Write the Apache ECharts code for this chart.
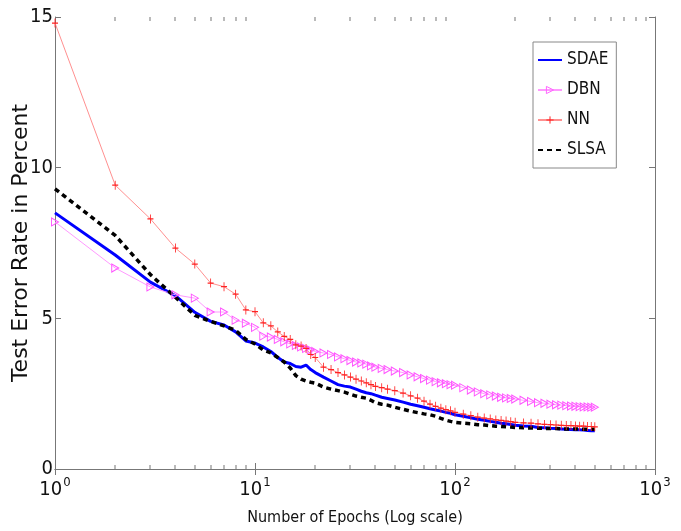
<!DOCTYPE html>
<html>
<head>
<meta charset="utf-8">
<script src="https://cdn.jsdelivr.net/npm/echarts@6/dist/echarts.min.js"></script>
<style>
  html, body { margin: 0; padding: 0; background: #fff; }
  #chart { width: 681px; height: 531px; }
</style>
</head>
<body>
<div id="chart"></div>
<script>
var epochs = [1, 2, 3, 4, 5, 6, 7, 8, 9, 10, 11, 12, 13, 14, 15, 16, 17, 18, 19, 20,
  22, 24, 26, 28, 30, 32, 34, 36, 38, 40,
  43, 46, 50, 55, 60, 65, 70, 75, 80, 85, 90, 95, 100,
  110, 120, 130, 140, 150, 160, 170, 180, 190, 200,
  220, 240, 260, 280, 300, 320, 340, 360, 380, 400, 420, 440, 460, 480, 500]

var sdae = [8.5, 7.1, 6.2, 5.75, 5.2, 4.9, 4.78, 4.55, 4.25, 4.18, 4.05, 3.9, 3.7, 3.55, 3.5, 3.4, 3.38, 3.45, 3.3, 3.2,
  3.05, 2.92, 2.8, 2.75, 2.72, 2.65, 2.58, 2.53, 2.5, 2.45,
  2.38, 2.34, 2.29, 2.22, 2.15, 2.1, 2.05, 2.0, 1.96, 1.92, 1.88, 1.85, 1.8,
  1.75, 1.7, 1.65, 1.62, 1.58, 1.55, 1.52, 1.5, 1.48, 1.45,
  1.43, 1.42, 1.38, 1.37, 1.35, 1.34, 1.33, 1.32, 1.31, 1.3, 1.3, 1.29, 1.28, 1.27, 1.27]

var dbn = [8.2, 6.67, 6.04, 5.78, 5.67, 5.21, 5.21, 4.94, 4.84, 4.7, 4.41, 4.38, 4.3, 4.22, 4.15, 4.1, 4.05, 4.0, 3.95, 3.9,
  3.85, 3.8, 3.72, 3.66, 3.6, 3.55, 3.52, 3.48, 3.42, 3.38,
  3.34, 3.3, 3.25, 3.2, 3.12, 3.06, 3.0, 2.95, 2.9, 2.86, 2.83, 2.8, 2.78,
  2.7, 2.62, 2.56, 2.5, 2.46, 2.42, 2.38, 2.36, 2.34, 2.32,
  2.28, 2.24, 2.2, 2.18, 2.15, 2.13, 2.12, 2.1, 2.09, 2.08, 2.07, 2.06, 2.06, 2.05, 2.05]

var nn = [14.8, 9.42, 8.3, 7.33, 6.8, 6.17, 6.05, 5.8, 5.28, 5.22, 4.85, 4.75, 4.55, 4.4, 4.3, 4.12, 4.08, 4.0, 3.8, 3.7,
  3.38, 3.3, 3.2, 3.12, 3.05, 2.98, 2.92, 2.86, 2.8, 2.74,
  2.7, 2.65, 2.6, 2.52, 2.43, 2.35, 2.25, 2.15, 2.08, 2.02, 1.97, 1.93, 1.88,
  1.82, 1.77, 1.72, 1.69, 1.66, 1.63, 1.61, 1.59, 1.57, 1.55,
  1.53, 1.52, 1.5, 1.48, 1.47, 1.46, 1.45, 1.44, 1.44, 1.43, 1.42, 1.42, 1.41, 1.41, 1.4]

var slsa = [9.3, 7.75, 6.45, 5.7, 5.1, 4.9, 4.75, 4.6, 4.3, 4.15, 3.95, 3.85, 3.7, 3.55, 3.35, 3.1, 2.98, 2.92, 2.88, 2.85,
  2.72, 2.65, 2.6, 2.55, 2.48, 2.42, 2.38, 2.35, 2.28, 2.2,
  2.15, 2.12, 2.05, 1.98, 1.92, 1.87, 1.83, 1.8, 1.75, 1.68, 1.62, 1.58, 1.55,
  1.52, 1.5, 1.47, 1.46, 1.44, 1.42, 1.41, 1.4, 1.39, 1.38,
  1.37, 1.36, 1.35, 1.35, 1.34, 1.34, 1.33, 1.33, 1.33, 1.33, 1.32, 1.32, 1.32, 1.32, 1.32]

// minor ticks of the log axis (matlab style)
var minorTicks = [2, 3, 4, 5, 6, 7, 8, 9, 20, 30, 40, 50, 60, 70, 80, 90, 200, 300, 400, 500, 600, 700, 800, 900]

var narrow = "'Liberation Sans Narrow', 'DejaVu Sans Condensed', 'Liberation Sans', sans-serif"
var axisColor = '#777'

function pairs(vals) {
  return epochs.map(function (e, i) { return [e, vals[i]] })
}

var chart = echarts.init(document.getElementById('chart'))

var plusSym = 'path://M5,0 L5,10 M0,5 L10,5'
var triSym = 'path://M0,0 L10,5 L0,10 Z'

chart.setOption({
  animation: false,
  backgroundColor: '#fff',
  grid: { left: 55, right: 26, top: 17, bottom: 62, outerBoundsMode: 'none' },
  legend: {
    orient: 'vertical',
    left: 533,
    top: 42,
    padding: [9, 8, 9, 4],
    itemGap: 12,
    itemWidth: 24,
    itemHeight: 9,
    borderColor: '#888',
    borderWidth: 1,
    backgroundColor: '#fff',
    textStyle: { fontFamily: narrow, fontSize: 17, color: '#111', lineHeight: 18 },
    data: [
      { name: 'SDAE' },
      { name: 'DBN', itemStyle: { color: 'transparent', borderColor: '#ff66ff', borderWidth: 1 } },
      { name: 'NN', itemStyle: { color: 'transparent', borderColor: '#ff2222', borderWidth: 1 } },
      { name: 'SLSA' }
    ]
  },
  xAxis: [{
    type: 'log',
    logBase: 10,
    min: 1,
    max: 1000,
    name: 'Number of Epochs (Log scale)',
    nameLocation: 'middle',
    nameGap: 41,
    nameMoveOverlap: false,
    nameTextStyle: { fontFamily: narrow, fontSize: 16, color: '#111' },
    axisLine: { lineStyle: { color: axisColor } },
    axisTick: { inside: true, length: 6, lineStyle: { color: axisColor } },
    splitLine: { show: false },
    axisLabel: {
      margin: 7,
      formatter: function (v) {
        return '{b|10}{s|' + Math.round(Math.log10(v)) + '}'
      },
      rich: {
        b: { fontFamily: narrow, fontSize: 20, color: '#111' },
        s: { fontFamily: narrow, fontSize: 13, color: '#111', padding: [0, 0, 14, 1] }
      }
    }
  }, {
    type: 'log',
    logBase: 10,
    min: 1,
    max: 1000,
    position: 'top',
    axisLine: { lineStyle: { color: axisColor } },
    axisTick: { inside: true, length: 6, lineStyle: { color: axisColor } },
    axisLabel: { show: false },
    splitLine: { show: false }
  }],
  yAxis: [{
    type: 'value',
    min: 0,
    max: 15,
    interval: 5,
    name: 'Test Error Rate in Percent',
    nameLocation: 'middle',
    nameGap: 23,
    nameMoveOverlap: false,
    nameTextStyle: { fontFamily: "'DejaVu Sans', sans-serif", fontSize: 22, color: '#111' },
    axisLine: { show: true, lineStyle: { color: axisColor } },
    axisTick: { show: true, inside: true, length: 6, lineStyle: { color: axisColor } },
    splitLine: { show: false },
    axisLabel: { margin: 2, fontFamily: narrow, fontSize: 20, color: '#111' }
  }, {
    type: 'value',
    min: 0,
    max: 15,
    interval: 5,
    position: 'right',
    axisLine: { show: true, lineStyle: { color: axisColor } },
    axisTick: { show: true, inside: true, length: 6, lineStyle: { color: axisColor } },
    axisLabel: { show: false },
    splitLine: { show: false }
  }],
  series: [{
    name: 'minor',
    type: 'custom',
    silent: true,
    z: 10,
    xAxisIndex: 0,
    yAxisIndex: 0,
    data: minorTicks.map(function (v) { return [v, 0] }),
    renderItem: function (params, api) {
      var b = api.coord([api.value(0), 0])
      var t = api.coord([api.value(0), 15])
      return {
        type: 'group',
        children: [
          { type: 'rect', shape: { x: Math.round(b[0]) - 0.5, y: b[1] - 4, width: 1, height: 4 }, style: { fill: axisColor } },
          { type: 'rect', shape: { x: Math.round(t[0]) - 0.5, y: t[1], width: 1, height: 4 }, style: { fill: axisColor } }
        ]
      }
    }
  }, {
    name: 'SDAE',
    type: 'line',
    data: pairs(sdae),
    showSymbol: false,
    symbol: 'none',
    lineStyle: { color: '#0000ff', width: 3 },
    itemStyle: { color: 'transparent' }
  }, {
    name: 'DBN',
    type: 'line',
    data: pairs(dbn),
    symbol: triSym,
    symbolSize: [7, 8],
    lineStyle: { color: '#ff99ff', width: 1 },
    itemStyle: { color: 'transparent', borderColor: '#ff55ff', borderWidth: 1 }
  }, {
    name: 'NN',
    type: 'line',
    data: pairs(nn),
    symbol: plusSym,
    symbolSize: [6, 9],
    lineStyle: { color: '#ff9090', width: 1 },
    itemStyle: { color: 'transparent', borderColor: '#ff2222', borderWidth: 1 }
  }, {
    name: 'SLSA',
    type: 'line',
    data: pairs(slsa),
    symbol: 'none',
    lineStyle: { color: '#000', width: 3.5, type: [5, 4] },
    itemStyle: { color: 'transparent' }
  }]
})
</script>
</body>
</html>
